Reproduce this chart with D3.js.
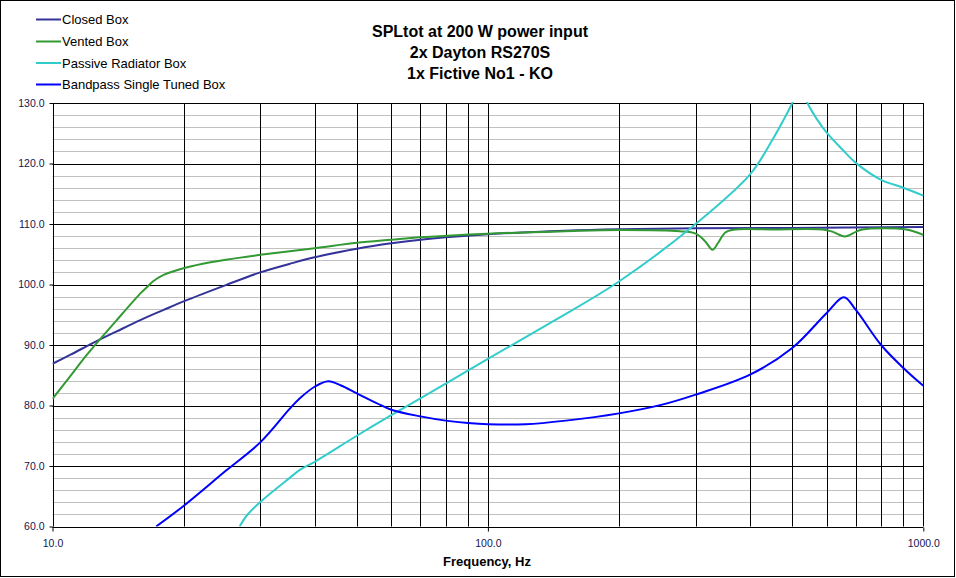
<!DOCTYPE html>
<html><head><meta charset="utf-8">
<script src="https://cdn.jsdelivr.net/npm/d3@7/dist/d3.min.js"></script>
<style>body{margin:0;background:#fff;font-family:Arial,"Liberation Sans",sans-serif}</style>
</head><body><svg id="c" width="956" height="578"></svg>
<script>
const titleLines = ["SPLtot at 200 W power input","2x Dayton RS270S","1x Fictive No1 - KO"];
const xLabel = "Frequency, Hz";
const seriesNames = ["Closed Box","Vented Box","Passive Radiator Box","Bandpass Single Tuned Box"];
const seriesColors = ["#333399","#339933","#33cccc","#0000ff"];
const yTicks = [60,70,80,90,100,110,120,130];
const xTicks = [10,100,1000];

const closedF = [10,11,12.6,14,16,18,20,25,30,35,40,50,60,70,80,100,150,200,300,500,1000];
const closedV = [86.9,88.4,90.6,92.2,94.2,95.8,97.2,99.9,102.0,103.4,104.5,105.9,106.8,107.4,107.8,108.3,108.9,109.15,109.3,109.35,109.5];

const ventedF = [10,11,12,14,16,16.5,17,18,20,22,25,30,40,50,60,70,100,150,200,276,300,315,328,338,351,366,450,588,620,660,700,725,914,1000];
const ventedV = [81.1,84.9,88.4,94.0,98.7,99.6,100.5,101.6,102.7,103.4,104.1,104.9,106.0,106.9,107.4,107.8,108.4,108.8,109.0,108.8,108.4,107.2,105.75,106.9,108.6,109.05,109.1,109.1,108.7,107.95,108.7,109.1,109.1,108.2];

const passiveF = [26.9,28,30,35,37,40,50,60,80,100,141,200,300,400,451,480,500,520,542,570,600,650,700,800,900,1000];
const passiveV = [60,61.9,64.05,68.0,69.35,70.7,75.0,78.4,83.6,87.7,93.9,100.5,110.0,118.2,124.0,127.5,130.0,133.5,130.0,127.3,125.1,122.4,120.1,117.3,116.0,114.7];

const bandF = [17.3,20,25,30,35,37,40,43,46,50,55.5,60,70,80,90,100,122,151,200,250,300,400,500,600,657,700,800,900,1000];
const bandV = [60,63.4,69.2,73.9,79.4,81.2,83.1,84.0,83.3,82.0,80.4,79.3,78.2,77.5,77.1,76.9,76.9,77.5,78.7,80.1,81.8,85.1,89.5,95.3,97.9,95.8,90.0,86.2,83.25];

const svg = d3.select("#c");
const L=52.5, R=923.3, T=103, B=526.5;
const x = d3.scaleLog().domain([10,1000]).range([L,R]);
const y = d3.scaleLinear().domain([60,130]).range([B,T]);

// outer frame
svg.append("rect").attr("x",0.5).attr("y",0.5).attr("width",954).attr("height",576)
  .attr("fill","#fff").attr("stroke","#000").attr("stroke-width",1);

// grid
const g = svg.append("g");
const minorY = d3.range(60,131,2).filter(v=>v%10!==0);
g.selectAll(".hm").data(minorY).join("line")
  .attr("x1",L).attr("x2",R).attr("y1",d=>Math.round(y(d))+0.5).attr("y2",d=>Math.round(y(d))+0.5)
  .attr("stroke","#c0c0c0").attr("stroke-width",1);
const vGrid = [];
[10,100].forEach(dec=>{for(let k=1;k<=10;k++) vGrid.push(dec*k);});
g.selectAll(".vg").data(vGrid).join("line")
  .attr("x1",d=>Math.round(x(d))+0.5).attr("x2",d=>Math.round(x(d))+0.5).attr("y1",T).attr("y2",B)
  .attr("stroke","#000").attr("stroke-width",1);
g.selectAll(".hM").data(yTicks).join("line")
  .attr("x1",L).attr("x2",R).attr("y1",d=>Math.round(y(d))+0.5).attr("y2",d=>Math.round(y(d))+0.5)
  .attr("stroke","#000").attr("stroke-width",1);

// axes
const fmt = d3.format(".1f");
const ya = svg.append("g").attr("transform",`translate(${Math.round(L)+0.5},0)`)
  .call(d3.axisLeft(y).tickValues(yTicks).tickFormat(fmt).tickSize(4).tickPadding(5));
ya.select(".domain").remove();
ya.selectAll("line").attr("stroke","#000");
ya.selectAll("text").attr("font-family","Arial, 'Liberation Sans', sans-serif").attr("font-size","10.5px").attr("fill","#151550");
const xa = svg.append("g").attr("transform",`translate(0,${Math.round(B)+0.5})`)
  .call(d3.axisBottom(x).tickValues(xTicks).tickFormat(fmt).tickSize(4).tickPadding(8));
xa.select(".domain").remove();
xa.selectAll("line").attr("stroke","#000");
xa.selectAll("text").attr("font-family","Arial, 'Liberation Sans', sans-serif").attr("font-size","10.5px").attr("fill","#151550");

// curves
svg.append("clipPath").attr("id","clip").append("rect").attr("x",L).attr("y",T-1).attr("width",R-L+1).attr("height",B-T+1);
const line = d3.line().x(d=>x(d[0])).y(d=>y(d[1])).curve(d3.curveCatmullRom.alpha(0.5));
const series = [[closedF,closedV],[ventedF,ventedV],[passiveF,passiveV],[bandF,bandV]];
const plot = svg.append("g").attr("clip-path","url(#clip)");
series.forEach((s,i)=>{
  const pts = s[0].map((f,j)=>[f,s[1][j]]);
  plot.append("path").datum(pts).attr("d",line).attr("fill","none")
    .attr("stroke",seriesColors[i]).attr("stroke-width",2);
});

// title
svg.append("g").selectAll("text").data(titleLines).join("text")
  .attr("x",480).attr("y",(d,i)=>37+i*21).attr("text-anchor","middle")
  .attr("font-family","Arial, 'Liberation Sans', sans-serif").attr("font-weight","bold").attr("font-size","16px")
  .text(d=>d);

// x label
svg.append("text").attr("x",487).attr("y",566).attr("text-anchor","middle")
  .attr("font-family","Arial, 'Liberation Sans', sans-serif").attr("font-weight","bold").attr("font-size","13px")
  .text(xLabel);

// legend
const lg = svg.append("g");
const legY = [19.5,41.5,63,84.5];
seriesNames.forEach((n,i)=>{
  lg.append("line").attr("x1",36).attr("x2",61).attr("y1",legY[i]).attr("y2",legY[i])
    .attr("stroke",seriesColors[i]).attr("stroke-width",2);
  lg.append("text").attr("x",62).attr("y",legY[i]+4.5)
    .attr("font-family","Arial, 'Liberation Sans', sans-serif").attr("font-size","13px").attr("fill","#000")
    .text(n);
});
</script></body></html>
